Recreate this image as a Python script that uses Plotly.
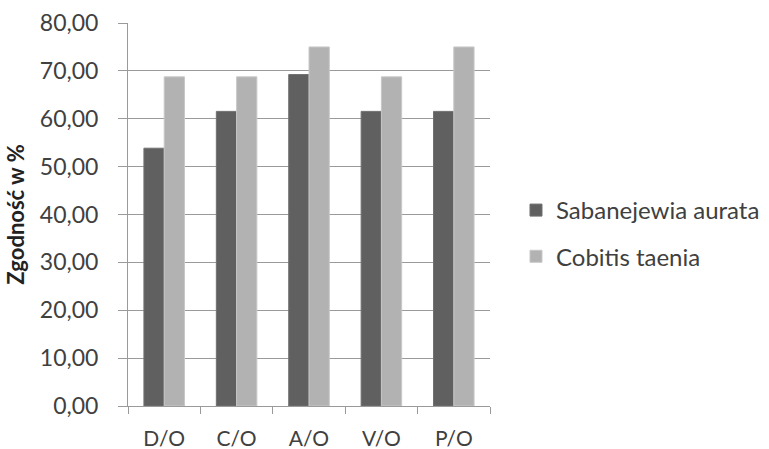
import plotly.graph_objects as go

categories = ["D/O", "C/O", "A/O", "V/O", "P/O"]
sabanejewia = [53.85, 61.54, 69.23, 61.54, 61.54]
cobitis = [68.75, 68.75, 75.00, 68.75, 75.00]
y_ticks = [0, 10, 20, 30, 40, 50, 60, 70, 80]

FONT = "Lato, Arial, sans-serif"
TEXT = "#404040"
GRID = "#9a9a9a"

fig = go.Figure()
fig.add_trace(go.Bar(
    x=categories, y=sabanejewia, name="Sabanejewia aurata",
    marker=dict(color="#606060", line=dict(color="#707070", width=1)),
    legendgroup="a",
))
fig.add_trace(go.Bar(
    x=categories, y=cobitis, name="Cobitis taenia",
    marker=dict(color="#b2b2b2", line=dict(color="#c8c8c8", width=1)),
    legendgroup="b",
))

fig.update_layout(
    width=769, height=449,
    margin=dict(l=128, r=279, t=23, b=43),
    paper_bgcolor="white", plot_bgcolor="white",
    separators=", ",
    barmode="group", bargap=0.44, bargroupgap=0,
    font=dict(family=FONT, size=21, color=TEXT),
    legend=dict(
        xref="container", yref="container",
        x=0.671, xanchor="left", y=0.48, yanchor="middle",
        tracegroupgap=12, font=dict(size=24, color=TEXT),
        itemwidth=30,
    ),
    xaxis=dict(
        type="category", showgrid=False, automargin=False,
        showline=True, linecolor=GRID, linewidth=1,
        ticks="outside", ticklen=7, tickcolor=GRID, tickson="boundaries",
        tickfont=dict(size=21, color=TEXT),
        ticklabelstandoff=14,
    ),
    yaxis=dict(
        range=[0, 80], tickvals=y_ticks, tickformat=".2f", automargin=False,
        showgrid=True, gridcolor=GRID, gridwidth=1,
        showline=True, linecolor=GRID, linewidth=1,
        ticks="outside", ticklen=9, tickcolor=GRID,
        tickfont=dict(size=23, color=TEXT),
        ticklabelstandoff=15,
        zeroline=False,
        title=dict(text="<b>Zgodność w %</b>", font=dict(size=22, color="#222222"), standoff=9),
    ),
)

fig.write_html("out.html")
